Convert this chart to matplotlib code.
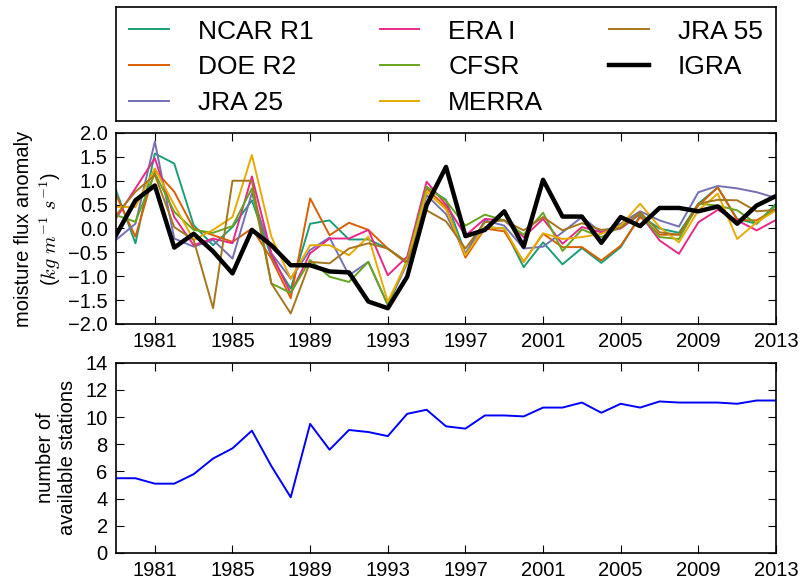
"""Moisture flux anomaly from reanalyses vs IGRA, plus station count."""

import matplotlib

matplotlib.use("Agg")
import matplotlib.pyplot as plt

plt.rcParams["font.family"] = ["Liberation Sans", "DejaVu Sans"]
plt.rcParams["mathtext.fontset"] = "cm"
plt.rcParams["xtick.direction"] = "in"
plt.rcParams["ytick.direction"] = "in"
plt.rcParams["xtick.top"] = True
plt.rcParams["ytick.right"] = True
plt.rcParams["xtick.major.size"] = 6
plt.rcParams["ytick.major.size"] = 6
plt.rcParams["axes.linewidth"] = 1.2

years = list(range(1979, 2014))

# reanalysis moisture flux anomalies (kg m-1 s-1), 1979-2013
ncar_r1 = [0.80, -0.31, 1.57, 1.36, 0.07, -0.35, 0.03, 0.59, -0.59, -1.26,
           0.10, 0.17, -0.23, -0.23, -0.42, -0.73, 0.87, 0.60, -0.53, 0.03,
           0.00, -0.81, -0.29, -0.75, -0.41, -0.72, -0.39, 0.27, 0.00, -0.09,
           0.52, 0.86, 0.20, 0.10, 0.52]
doe_r2 = [0.70, -0.17, 1.22, 0.77, 0.00, -0.14, -0.28, 0.00, -0.63, -1.46,
          0.63, -0.14, 0.12, -0.03, -0.42, -0.73, 0.84, 0.45, -0.61, 0.00,
          -0.06, -0.70, -0.11, -0.39, -0.39, -0.67, -0.36, 0.24, -0.13, -0.13,
          0.48, 0.86, 0.18, 0.17, 0.41]
jra_25 = [-0.24, 0.10, 1.82, -0.21, -0.38, -0.24, -0.63, 0.74, -0.52, -1.05,
          -0.45, -0.19, -0.98, -0.70, -1.60, -0.73, 0.70, 0.30, -0.53, 0.17,
          0.06, -0.42, -0.38, -0.08, 0.24, -0.08, 0.10, 0.36, 0.17, 0.04,
          0.76, 0.89, 0.84, 0.76, 0.64]
era_i = [0.21, 0.84, 1.47, 0.24, -0.35, -0.21, -0.31, 1.09, -0.52, -1.36,
         -0.52, -0.21, -0.21, -0.03, -0.98, -0.59, 0.98, 0.50, -0.15, 0.20,
         0.17, -0.18, 0.20, -0.32, 0.03, -0.08, 0.00, 0.30, -0.25, -0.53,
         0.13, 0.39, 0.17, -0.04, 0.18]
cfsr = [0.28, 0.14, 1.16, 0.35, -0.03, -0.09, 0.05, 0.84, -1.15, -1.35,
        -0.66, -1.01, -1.12, -0.70, -1.60, -0.66, 0.87, 0.58, 0.06, 0.29,
        0.17, -0.13, 0.33, -0.47, -0.02, -0.18, 0.04, 0.31, -0.18, -0.22,
        0.52, 0.48, 0.38, 0.10, 0.48]
merra = [0.45, 0.45, 1.26, 0.49, -0.24, -0.03, 0.24, 1.54, -0.17, -1.05,
         -0.35, -0.35, -0.56, -0.17, -1.53, -0.70, 0.77, 0.40, -0.56, 0.03,
         0.00, -0.70, -0.10, -0.22, -0.18, -0.11, 0.06, 0.52, 0.03, -0.29,
         0.38, 0.73, -0.22, 0.13, 0.38]
jra_55 = [0.28, 0.77, 1.12, 0.03, -0.24, -1.67, 1.00, 1.00, -1.15, -1.78,
          -0.70, -0.73, -0.42, -0.31, -0.42, -0.70, 0.38, 0.15, -0.42, 0.13,
          0.17, -0.04, 0.24, -0.04, 0.11, -0.03, 0.01, 0.34, -0.08, -0.13,
          0.52, 0.60, 0.59, 0.36, 0.39]
igra = [-0.14, 0.59, 0.90, -0.40, -0.11, -0.48, -0.94, -0.03, -0.35, -0.77,
        -0.77, -0.90, -0.92, -1.53, -1.67, -1.01, 0.49, 1.29, -0.16, -0.03,
        0.36, -0.38, 1.02, 0.25, 0.25, -0.30, 0.24, 0.05, 0.43, 0.43,
        0.36, 0.46, 0.10, 0.48, 0.68]

stations = [5.5, 5.5, 5.1, 5.1, 5.8, 6.95, 7.7, 9.0, 6.4, 4.1,
            9.5, 7.6, 9.05, 8.9, 8.6, 10.24, 10.54, 9.32, 9.15, 10.12,
            10.12, 10.05, 10.7, 10.7, 11.07, 10.32, 10.98, 10.7, 11.15, 11.07,
            11.07, 11.07, 10.98, 11.22, 11.22]

names = ["NCAR R1", "DOE R2", "JRA 25", "ERA I", "CFSR", "MERRA", "JRA 55"]
series = [ncar_r1, doe_r2, jra_25, era_i, cfsr, merra, jra_55]
# Dark2
colors = ["#1b9e77", "#d95f02", "#7570b3", "#e7298a", "#66a61e", "#e6ab02", "#a6761d"]

xticks = list(range(1981, 2014, 4))

fig = plt.figure(figsize=(8.04, 5.8), dpi=100)
ax_leg = fig.add_axes([0.1443, 0.7914, 0.8209, 0.1966])
ax1 = fig.add_axes([0.1443, 0.4414, 0.8209, 0.3293])
ax2 = fig.add_axes([0.1443, 0.0466, 0.8209, 0.328])

for name, vals, c in zip(names, series, colors):
    ax1.plot(years, vals, color=c, lw=1.4, label=name)
ax1.plot(years, igra, color="black", lw=3.2, label="IGRA")
ax1.set_xlim(1979, 2013)
ax1.set_ylim(-2, 2)
ax1.set_xticks(xticks)
ax1.set_yticks([-2, -1.5, -1, -0.5, 0, 0.5, 1, 1.5, 2])
ax1.set_yticklabels([f"{v:.1f}".replace("-", "\u2212") for v in ax1.get_yticks()])
ax1.tick_params(labelsize=14.5, pad=6)
ax1.set_ylabel("moisture flux anomaly\n($kg\\ m^{-1}\\ s^{-1}$)", fontsize=14.5,
               labelpad=4)

ax2.plot(years, stations, color="blue", lw=1.4)
ax2.set_xlim(1979, 2013)
ax2.set_ylim(0, 14)
ax2.set_xticks(xticks)
ax2.set_yticks(range(0, 15, 2))
ax2.tick_params(labelsize=14.5, pad=6)
ax2.set_ylabel("number of\navailable stations", fontsize=14.5, labelpad=6)

# legend lives in its own framed axes
ax_leg.set_xticks([])
ax_leg.set_yticks([])
h, l = ax1.get_legend_handles_labels()
ax_leg.legend(h, l, ncol=3, loc="center", frameon=False, fontsize=19,
              handlelength=1.5, handletextpad=1.1, columnspacing=2.5,
              labelspacing=0.45, bbox_to_anchor=(0.5, 0.47))

fig.savefig("out.png", dpi=100)
